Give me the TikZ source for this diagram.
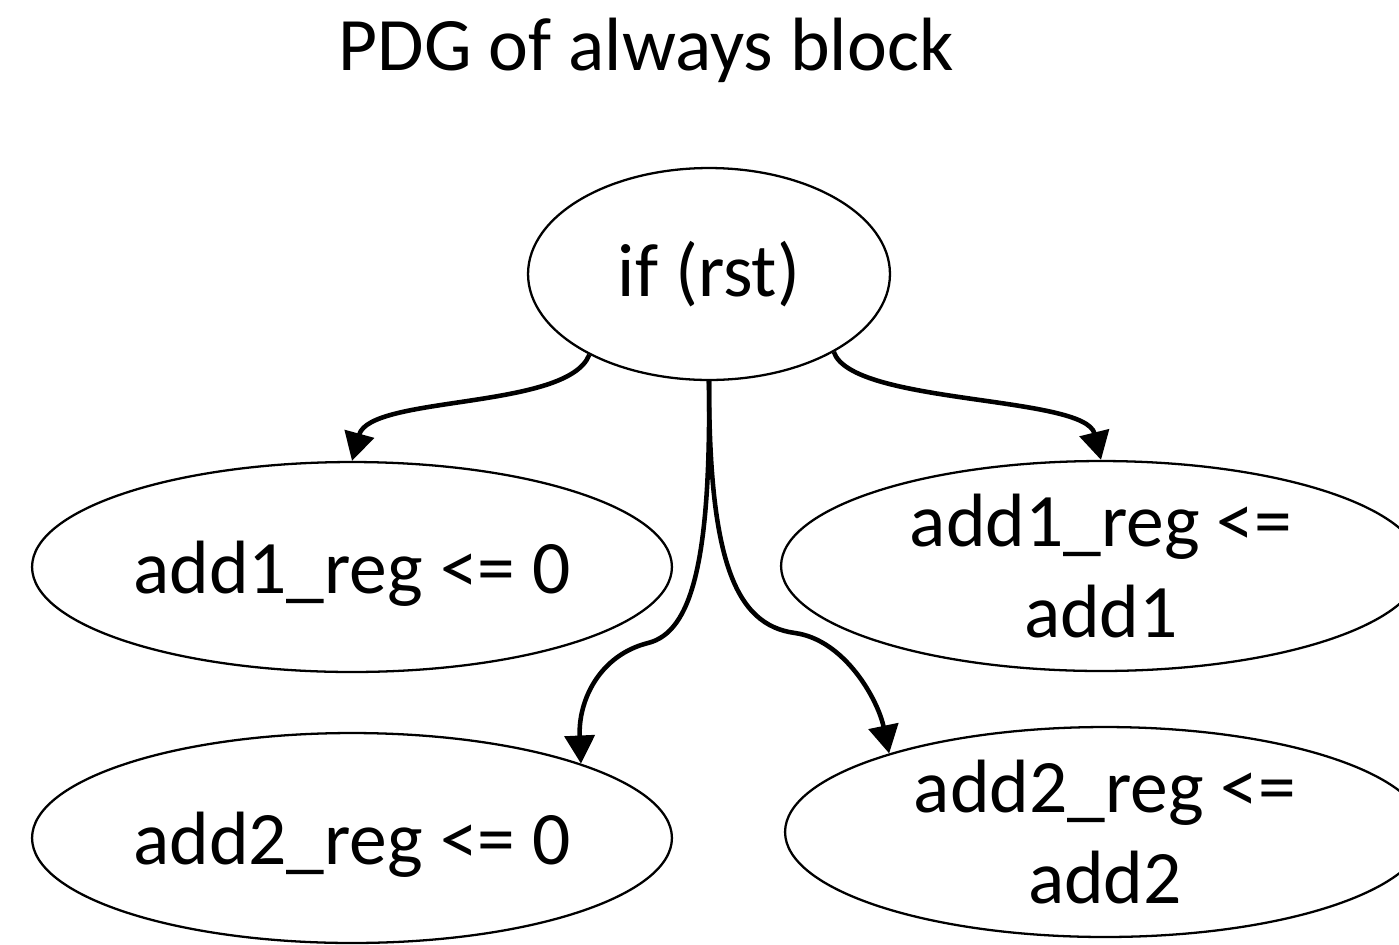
\documentclass[tikz,border=0pt]{standalone}
\usepackage{fontspec}
\setmainfont{Carlito}
\usetikzlibrary{shapes.geometric,arrows.meta}

\begin{document}
\begin{tikzpicture}[x={(0.02cm,0cm)}, y={(0cm,-0.02cm)},
  stmt/.style={draw, ellipse, line width=1.3pt, inner sep=0pt,
    minimum width=12.8cm, minimum height=4.2cm, align=center,
    font=\fontsize{43pt}{52pt}\selectfont},
  dep/.style={line width=2.6pt, -{Triangle[length=16pt,width=17pt]}}]
  \useasboundingbox (0,0) rectangle (1399,944);
  \clip (0,0) rectangle (1399,944);
  % Title
  \node[font=\fontsize{43pt}{52pt}\selectfont] (Title) at (646,50) {PDG of always block};
  % Nodes
  \node[stmt, minimum width=7.24cm, minimum height=4.24cm] (IfRst) at (709,274) {if (rst)};
  \node[stmt, text depth=0pt] (Add1Zero) at (352,567) {add1\_reg <= 0};
  \node[stmt] (Add1Reg) at (1101,566) {add1\_reg <=\\add1};
  \node[stmt, text depth=0pt] (Add2Zero) at (352,838) {add2\_reg <= 0};
  \node[stmt] (Add2Reg) at (1105,832) {add2\_reg <=\\add2};
  % Bends
  \coordinate (BendL) at (648,643);
  \coordinate (BendR) at (795,633);
  % Edges
  \draw[dep] (IfRst.214) .. controls (568,410) and (370,395) .. (Add1Zero.north);
  \draw[dep] (IfRst.-32) .. controls (852,405) and (1085,395) .. (Add1Reg.north);
  \draw[dep] (IfRst.south) .. controls (711,560) and (692,632) .. (BendL)
    .. controls (600,655) and (578,700) .. (Add2Zero.18.6);
  \draw[dep] (IfRst.south) .. controls (709,560) and (735,625) .. (BendR)
    .. controls (845,640) and (878,700) .. (Add2Reg.160.4);
\end{tikzpicture}
\end{document}
